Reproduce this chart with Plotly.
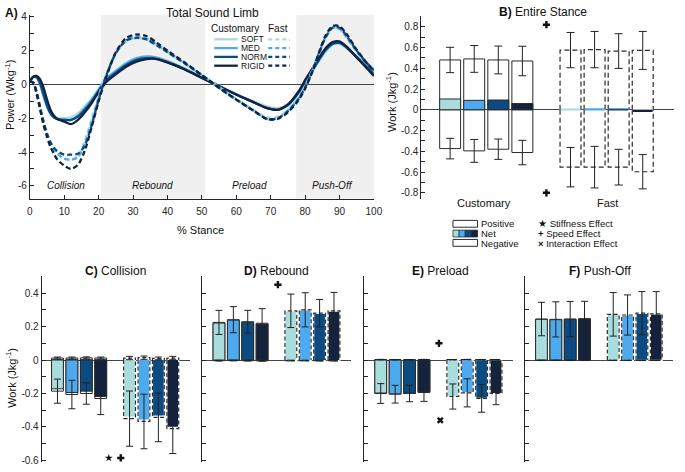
import plotly.graph_objects as go

W, H = 685, 472
FONT = "Liberation Sans, Arial, sans-serif"
INK = "#262626"
EDGE = "#2b2b2b"

conditions = ["SOFT", "MED", "NORM", "RIGID"]
cond_colors = ["#A9DCDC", "#4DAAEE", "#0A4B83", "#14233D"]

# ---- A) Total sound limb power over stance
stance = [0, 1, 2, 3, 4, 5, 6, 7, 8, 10, 12, 14, 16, 18, 20, 22, 25, 28, 31, 34, 37,
          40, 45, 50, 55, 60, 65, 69, 72, 75, 78, 80, 82, 84, 86, 88, 90, 92, 95, 98, 100]

cust_soft = [0.2, 0.45, 0.4, 0.0, -0.7, -1.3, -1.7, -1.9, -2.0, -2.0, -1.95, -1.7, -1.3, -0.85,
             -0.3, 0.3, 0.8, 1.2, 1.5, 1.62, 1.55, 1.35, 0.92, 0.42, -0.08, -0.55, -1.0, -1.3,
             -1.4, -1.15, -0.5, 0.1, 0.75, 1.4, 1.95, 2.35, 2.4, 2.15, 1.65, 1.15, 0.85]
cust_med = [0.2, 0.45, 0.4, 0.0, -0.7, -1.3, -1.75, -1.95, -2.05, -2.1, -2.1, -1.85, -1.4, -0.9,
            -0.3, 0.3, 0.8, 1.25, 1.55, 1.65, 1.58, 1.38, 0.94, 0.42, -0.1, -0.6, -1.05, -1.4,
            -1.5, -1.25, -0.55, 0.1, 0.75, 1.4, 2.0, 2.4, 2.45, 2.2, 1.65, 1.1, 0.75]
cust_norm = [0.2, 0.45, 0.42, 0.05, -0.6, -1.25, -1.7, -1.95, -2.05, -2.1, -2.1, -1.9, -1.5, -1.0,
             -0.4, 0.2, 0.7, 1.15, 1.45, 1.55, 1.5, 1.3, 0.9, 0.4, -0.1, -0.6, -1.05, -1.4,
             -1.5, -1.2, -0.5, 0.15, 0.8, 1.45, 2.05, 2.4, 2.45, 2.2, 1.6, 1.0, 0.6]
cust_rigid = [0.15, 0.45, 0.5, 0.3, -0.2, -0.9, -1.5, -1.85, -2.05, -2.2, -2.35, -2.1, -1.65, -1.1,
              -0.45, 0.1, 0.6, 1.05, 1.35, 1.5, 1.5, 1.3, 0.88, 0.38, -0.12, -0.6, -1.05, -1.4,
              -1.5, -1.2, -0.45, 0.25, 0.9, 1.55, 2.15, 2.5, 2.55, 2.25, 1.6, 0.95, 0.5]

fast_soft = [0.2, 0.1, -0.5, -1.4, -2.3, -3.0, -3.5, -3.8, -4.05, -4.35, -4.45, -4.2, -3.3, -2.0,
             -0.7, 0.5, 1.9, 2.55, 2.75, 2.65, 2.3, 1.9, 1.25, 0.55, -0.15, -0.85, -1.5, -1.95,
             -1.9, -1.5, -0.8, -0.1, 0.8, 1.9, 2.85, 3.35, 3.3, 2.85, 2.0, 1.3, 0.95]
fast_med = [0.2, 0.1, -0.5, -1.4, -2.3, -3.0, -3.5, -3.85, -4.1, -4.4, -4.45, -4.3, -3.5, -2.2,
            -0.8, 0.4, 1.85, 2.6, 2.8, 2.7, 2.35, 1.95, 1.25, 0.55, -0.2, -0.9, -1.55, -2.05,
            -2.0, -1.55, -0.85, -0.15, 0.75, 1.85, 2.8, 3.35, 3.3, 2.8, 1.95, 1.25, 0.9]
fast_norm = [0.2, 0.1, -0.45, -1.35, -2.2, -2.9, -3.4, -3.75, -3.95, -4.15, -4.15, -4.1, -3.6, -2.4,
             -0.9, 0.4, 1.85, 2.6, 2.75, 2.65, 2.3, 1.9, 1.25, 0.55, -0.2, -0.9, -1.55, -2.05,
             -2.0, -1.6, -0.9, -0.2, 0.7, 1.8, 2.8, 3.35, 3.35, 2.9, 2.0, 1.25, 0.85]
fast_rigid = [0.2, 0.1, -0.6, -1.5, -2.4, -3.1, -3.7, -4.1, -4.45, -4.8, -5.0, -4.75, -3.9, -2.5,
              -1.0, 0.3, 1.9, 2.75, 2.95, 2.85, 2.45, 2.0, 1.3, 0.55, -0.2, -0.9, -1.55, -2.05,
              -2.05, -1.65, -0.95, -0.25, 0.7, 1.85, 2.9, 3.45, 3.45, 3.0, 2.05, 1.25, 0.8]

power_customary = [cust_soft, cust_med, cust_norm, cust_rigid]
power_fast = [fast_soft, fast_med, fast_norm, fast_rigid]

phase_names = ["Collision", "Rebound", "Preload", "Push-Off"]
phase_mid = [10.5, 35.7, 63.8, 88.0]
shaded_start = [20.7, 77.4]
shaded_end = [51.0, 100.0]

stance_ticks = [0, 10, 20, 30, 40, 50, 60, 70, 80, 90, 100]
power_ticks = [-6, -5, -4, -3, -2, -1, 0, 1, 2, 3, 4]
power_labels = ["-6", " ", "-4", " ", "-2", " ", "0", " ", "2", " ", "4"]

# ---- bar panels: 4 customary then 4 fast (SOFT, MED, NORM, RIGID)
bar_x = [1, 2, 3, 4, 6, 7, 8, 9]

# B) entire stance
b_pos = [0.48, 0.49, 0.48, 0.47, 0.575, 0.58, 0.566, 0.572]
b_pos_err = [0.122, 0.129, 0.134, 0.142, 0.17, 0.175, 0.167, 0.183]
b_neg = [-0.374, -0.396, -0.38, -0.412, -0.553, -0.553, -0.553, -0.597]
b_neg_err = [0.099, 0.11, 0.098, 0.118, 0.19, 0.2, 0.172, 0.165]
b_net = [0.104, 0.091, 0.094, 0.06, 0.01, 0.015, 0.004, -0.022]

# C) collision
c_pos = [0.012, 0.012, 0.013, 0.012, 0.012, 0.014, 0.01, 0.012]
c_pos_err = [0.006, 0.006, 0.006, 0.006, 0.01, 0.01, 0.008, 0.01]
c_neg = [-0.186, -0.206, -0.2, -0.23, -0.35, -0.367, -0.343, -0.41]
c_neg_err = [0.072, 0.085, 0.064, 0.096, 0.165, 0.163, 0.145, 0.149]
c_net = [-0.172, -0.194, -0.186, -0.218, -0.338, -0.355, -0.332, -0.398]

# D) rebound
d_pos = [0.225, 0.241, 0.229, 0.22, 0.294, 0.3, 0.28, 0.294]
d_pos_err = [0.072, 0.078, 0.068, 0.087, 0.1, 0.102, 0.082, 0.11]
d_neg = [-0.004, -0.003, -0.004, -0.005, -0.003, -0.003, -0.004, -0.004]
d_neg_err = [0.002, 0.002, 0.002, 0.002, 0.002, 0.002, 0.002, 0.002]
d_net = [0.221, 0.238, 0.225, 0.215, 0.291, 0.297, 0.276, 0.29]

# E) preload
e_pos = [0.003, 0.002, 0.002, 0.003, 0.002, 0.003, 0.002, 0.002]
e_pos_err = [0.001, 0.001, 0.001, 0.001, 0.001, 0.001, 0.001, 0.001]
e_neg = [-0.2, -0.204, -0.2, -0.194, -0.218, -0.196, -0.229, -0.2]
e_neg_err = [0.059, 0.053, 0.049, 0.053, 0.075, 0.084, 0.083, 0.067]
e_net = [-0.197, -0.202, -0.198, -0.191, -0.216, -0.193, -0.227, -0.198]

# F) push-off
f_pos = [0.245, 0.243, 0.245, 0.247, 0.273, 0.269, 0.28, 0.276]
f_pos_err = [0.1, 0.105, 0.105, 0.104, 0.13, 0.12, 0.129, 0.133]
f_neg = [-0.002, -0.002, -0.002, -0.002, -0.002, -0.002, -0.002, -0.002]
f_neg_err = [0.001, 0.001, 0.001, 0.001, 0.001, 0.001, 0.001, 0.001]
f_net = [0.243, 0.241, 0.243, 0.245, 0.271, 0.267, 0.278, 0.274]

# significance markers (x position, y value, symbol)
sig_b = ([5, 5], [0.82, -0.80], ["cross", "cross"])
sig_c = ([4.56, 5.39], [-0.585, -0.585], ["star", "cross"])
sig_d = ([5.1], [0.45], ["cross"])
sig_e = ([5.04, 5.13], [0.10, -0.36], ["cross", "x"])

b_ticks = [-0.8, -0.7, -0.6, -0.5, -0.4, -0.3, -0.2, -0.1, 0, 0.1, 0.2, 0.3, 0.4, 0.5, 0.6, 0.7, 0.8, 0.9]
b_labels = ["-0.8", " ", "-0.6", " ", "-0.4", " ", "-0.2", " ", "0", " ", "0.2", " ", "0.4", " ",
            "0.6", " ", "0.8", " "]
phase_ticks = [-0.6, -0.5, -0.4, -0.3, -0.2, -0.1, 0, 0.1, 0.2, 0.3, 0.4, 0.5]
phase_labels = ["-0.6", " ", "-0.4", " ", "-0.2", " ", "0", " ", "0.2", " ", "0.4", " "]


def px(x):
    return x / W


def py(y):
    return 1 - y / H


fig = go.Figure()

# ---------- panel A
for i in range(2):
    fig.add_shape(type="rect", xref="x", yref="y domain", x0=shaded_start[i], x1=shaded_end[i],
                  y0=0, y1=1, fillcolor="#F0F0F0", line_width=0, layer="below")

for curves, dash in ((power_customary, "solid"), (power_fast, "5px,3px")):
    for vals, col in zip(curves, cond_colors):
        fig.add_trace(go.Scatter(x=stance, y=vals, mode="lines", xaxis="x", yaxis="y",
                                 line=dict(color=col, width=2.3, dash=dash, shape="spline",
                                           smoothing=0.8)))

annotations = []
for name, mid in zip(phase_names, phase_mid):
    annotations.append(dict(x=mid, y=-6, xref="x", yref="y", text="<i>%s</i>" % name,
                            showarrow=False, font=dict(family=FONT, size=10, color="#111")))


def add_bars(n, pos, pos_err, neg, neg_err, net, width, cap, dash):
    xa, ya = "x%d" % n, "y%d" % n
    for vals in (pos, neg):
        fig.add_trace(go.Bar(x=bar_x, y=vals, width=width, xaxis=xa, yaxis=ya,
                             marker=dict(color="white",
                                         line=dict(color=EDGE, width=[1] * 4 + [0] * 4))))
    fig.add_trace(go.Bar(x=bar_x, y=net, width=width, xaxis=xa, yaxis=ya,
                         marker=dict(color=cond_colors * 2,
                                     line=dict(color=EDGE, width=[1] * 4 + [0] * 4))))
    # dashed outlines for the fast-speed boxes
    ox, oy = [], []
    for i in range(4, 8):
        x0, x1 = bar_x[i] - width / 2, bar_x[i] + width / 2
        for v in (pos[i], neg[i]):
            ox += [x0, x0, x1, x1, None]
            oy += [0, v, v, 0, None]
    fig.add_trace(go.Scatter(x=ox, y=oy, mode="lines", xaxis=xa, yaxis=ya,
                             line=dict(color="white", width=1.2)))
    fig.add_trace(go.Scatter(x=ox, y=oy, mode="lines", xaxis=xa, yaxis=ya,
                             line=dict(color=EDGE, width=1.2, dash=dash)))
    for vals, err in ((pos, pos_err), (neg, neg_err)):
        fig.add_trace(go.Scatter(x=bar_x, y=vals, mode="markers", xaxis=xa, yaxis=ya,
                                 marker=dict(size=1, color="rgba(0,0,0,0)"),
                                 error_y=dict(type="data", array=err, color="#222",
                                              thickness=1, width=cap)))


def add_sig(n, sig):
    xs, ys, syms = sig
    fig.add_trace(go.Scatter(x=xs, y=ys, mode="markers", xaxis="x%d" % n, yaxis="y%d" % n,
                             marker=dict(symbol=syms, size=6, color="#111",
                                         line=dict(width=0))))


add_bars(2, b_pos, b_pos_err, b_neg, b_neg_err, b_net, 0.87, 4, "5px,3px")
add_bars(3, c_pos, c_pos_err, c_neg, c_neg_err, c_net, 0.82, 3.5, "4px,2.5px")
add_bars(4, d_pos, d_pos_err, d_neg, d_neg_err, d_net, 0.82, 3.5, "4px,2.5px")
add_bars(5, e_pos, e_pos_err, e_neg, e_neg_err, e_net, 0.82, 3.5, "4px,2.5px")
add_bars(6, f_pos, f_pos_err, f_neg, f_neg_err, f_net, 0.82, 3.5, "4px,2.5px")
add_sig(2, sig_b)
add_sig(3, sig_c)
add_sig(4, sig_d)
add_sig(5, sig_e)

# ---------- axes
axis_font = dict(family=FONT, size=10, color=INK)
base_y = dict(showline=True, linecolor=INK, linewidth=1, ticks="inside", ticklen=4,
              tickcolor=INK, showgrid=False, zeroline=True, zerolinecolor="#444",
              zerolinewidth=1.2, tickfont=axis_font, tickmode="array")
hidden_x = dict(showline=False, showticklabels=False, ticks="", showgrid=False, zeroline=False)

layout_axes = dict(
    xaxis=dict(domain=[px(27.3), px(377.5)], range=[0, 100], anchor="y", showline=True,
               linecolor=INK, ticks="inside", ticklen=4, tickcolor=INK, showgrid=False,
               zeroline=False, tickmode="array", tickvals=stance_ticks, tickfont=axis_font,
               ticklabelstandoff=3),
    yaxis=dict(base_y, domain=[py(196.7), py(9.3)], range=[-6.75, 4.1], anchor="x",
               tickvals=power_ticks, ticktext=power_labels),
    xaxis2=dict(hidden_x, domain=[px(425.7), px(683)], range=[-0.2, 10.3], anchor="y2"),
    yaxis2=dict(base_y, domain=[py(197.2), py(10.6)], range=[-0.86, 0.9], anchor="x2",
                tickvals=b_ticks, ticktext=b_labels),
)
bottom_x = [(39.3, 190, -0.1), (202.7, 354, -0.17), (367.3, 519, -0.17), (531, 682, -0.17)]
for k, (l, r, lo) in enumerate(bottom_x):
    n = k + 3
    layout_axes["xaxis%d" % n] = dict(hidden_x, domain=[px(l), px(r)], range=[lo, 10.17],
                                      anchor="y%d" % n)
    layout_axes["yaxis%d" % n] = dict(base_y, domain=[py(466), py(276.2)], range=[-0.61, 0.5],
                                      anchor="x%d" % n, tickvals=phase_ticks,
                                      ticktext=phase_labels, showticklabels=(n == 3))

# ---------- titles and labels
title_font = dict(family=FONT, size=12, color="#111")
titles = [
    (0, 7, "<b>A)</b>", "left"),
    (213, 7, "Total Sound Limb", "center"),
    (550, 6, "<b>B)</b> Entire Stance", "center"),
    (115, 270.5, "<b>C)</b> Collision", "center"),
    (278, 270.5, "<b>D)</b> Rebound", "center"),
    (445, 270.5, "<b>E)</b> Preload", "center"),
    (608, 270.5, "<b>F)</b> Push-Off", "center"),
]
for x, y, txt, anchor in titles:
    annotations.append(dict(x=px(x), y=py(y), xref="paper", yref="paper", text=txt,
                            xanchor=anchor, showarrow=False, font=title_font))

label_font = dict(family=FONT, size=11, color="#111")
for x, y, txt, ang in [(201, 229, "% Stance", 0),
                       (7, 91, "Power (Wkg<sup>-1</sup>)", -90),
                       (395, 98, "Work (Jkg<sup>-1</sup>)", -90),
                       (8, 380, "Work (Jkg<sup>-1</sup>)", -90),
                       (490, 201, "Customary", 0),
                       (615, 201, "Fast", 0)]:
    annotations.append(dict(x=px(x), y=py(y), xref="paper", yref="paper", text=txt,
                            xanchor="center", textangle=ang, showarrow=False, font=label_font))

# panel A legend
small = dict(family=FONT, size=8.5, color="#111")
annotations.append(dict(x=px(236), y=py(23), xref="paper", yref="paper", text="Customary",
                        xanchor="center", showarrow=False,
                        font=dict(family=FONT, size=10, color="#111")))
annotations.append(dict(x=px(280), y=py(23), xref="paper", yref="paper", text="Fast",
                        xanchor="center", showarrow=False,
                        font=dict(family=FONT, size=10, color="#111")))
shapes = []
for i, (name, col) in enumerate(zip(conditions, cond_colors)):
    yy = py(34 + 9 * i)
    shapes.append(dict(type="line", xref="paper", yref="paper", x0=px(215), x1=px(239),
                       y0=yy, y1=yy, line=dict(color=col, width=2.3)))
    shapes.append(dict(type="line", xref="paper", yref="paper", x0=px(270), x1=px(292),
                       y0=yy, y1=yy, line=dict(color=col, width=2.3, dash="4px,3px")))
    annotations.append(dict(x=px(240), y=yy, xref="paper", yref="paper", text=name,
                            xanchor="left", showarrow=False, font=small))

# panel B legend
for y0, y1 in ((219, 226), (238.5, 245.5)):
    shapes.append(dict(type="rect", xref="paper", yref="paper", x0=px(458), x1=px(483),
                       y0=py(y1), y1=py(y0), fillcolor="white", line=dict(color=EDGE, width=1)))
for i, col in enumerate(cond_colors):
    shapes.append(dict(type="rect", xref="paper", yref="paper", x0=px(458 + 6.25 * i),
                       x1=px(458 + 6.25 * (i + 1)), y0=py(236), y1=py(229), fillcolor=col,
                       line=dict(color=EDGE, width=0.8)))
leg_font = dict(family=FONT, size=9.5, color="#111")
for y, txt in ((222.5, "Positive"), (232.5, "Net"), (242.5, "Negative")):
    annotations.append(dict(x=px(484.5), y=py(y), xref="paper", yref="paper", text=txt,
                            xanchor="left", showarrow=False, font=leg_font))
for y, txt in ((222.5, "\u2605 Stiffness Effect"), (232.5, "<b>+</b> Speed Effect"),
               (242.5, "<b>\u00d7</b> Interaction Effect")):
    annotations.append(dict(x=px(542.5), y=py(y), xref="paper", yref="paper", text=txt,
                            xanchor="left", showarrow=False, font=leg_font))

for a in annotations:
    a.setdefault("yanchor", "middle")
    a.setdefault("xanchor", "center")

fig.update_layout(
    width=W, height=H, margin=dict(l=0, r=0, t=0, b=0),
    paper_bgcolor="white", plot_bgcolor="white", showlegend=False,
    barmode="overlay", font=dict(family=FONT, color=INK),
    annotations=annotations, shapes=fig.layout.shapes + tuple(shapes),
    **layout_axes,
)

fig.write_html("out.html", config={"displayModeBar": False},
               post_script="document.body.style.margin='0';")
